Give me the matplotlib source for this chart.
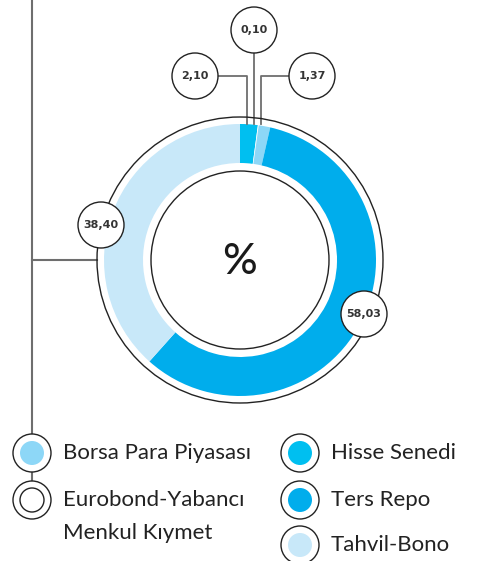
import matplotlib.pyplot as plt
from matplotlib.patches import Circle

# data
labels = ["Hisse Senedi", "Eurobond-Yabancı\nMenkul Kıymet", "Borsa Para Piyasası", "Ters Repo", "Tahvil-Bono"]
values = [2.10, 0.10, 1.37, 58.03, 38.40]
value_txt = ["2,10", "0,10", "1,37", "58,03", "38,40"]
colors = ["#00bff0", "#ffffff", "#8dd7f7", "#00adec", "#c8e8f9"]

W, H = 478, 561
def Y(y):
    return H - y

fig = plt.figure(figsize=(W / 100, H / 100), dpi=100)
ax = fig.add_axes([0, 0, 1, 1])

cx, cy = 240, Y(260)
line_col = "#6e6e6e"

# donut
ax.pie(values, colors=colors, startangle=90, counterclock=False,
       radius=136, center=(cx, cy),
       wedgeprops=dict(width=39, linewidth=0))
ax.add_patch(Circle((cx, cy), 143, fill=False, ec="#222222", lw=1.0, zorder=3))
ax.add_patch(Circle((cx, cy), 89, fill=False, ec="#222222", lw=1.0, zorder=3))
ax.text(cx, cy - 2, "%", ha="center", va="center", fontsize=31,
        family="Lato", fontweight="medium", color="#1a1a1a")

# leader lines
ax.plot([218, 247, 247], [Y(76), Y(76), Y(124)], color=line_col, lw=1.3, zorder=2)
ax.plot([254, 254], [Y(53), Y(124)], color=line_col, lw=1.3, zorder=2)
ax.plot([289, 261, 261], [Y(76), Y(76), Y(124)], color=line_col, lw=1.3, zorder=2)
ax.plot([32, 32], [Y(0), Y(434)], color=line_col, lw=1.5, zorder=1)
ax.plot([32, 32], [Y(472), Y(481)], color=line_col, lw=1.5, zorder=1)
ax.plot([32, 97], [Y(260), Y(260)], color=line_col, lw=1.5, zorder=1)

# value bubbles
bubbles = [(195, 76), (254, 30), (312, 76), (364, 314), (101, 225)]
for (bx, by), t in zip(bubbles, value_txt):
    ax.add_patch(Circle((bx, Y(by)), 23, fc="white", ec="#222222", lw=1.0, zorder=4))
    ax.text(bx, Y(by), t, ha="center", va="center", fontsize=8,
            fontweight="bold", family="DejaVu Sans", color="#333333", zorder=5)

# legend
leg_pos = {"Borsa Para Piyasası": (32, 453), "Eurobond-Yabancı\nMenkul Kıymet": (32, 500),
           "Hisse Senedi": (300, 453), "Ters Repo": (300, 500), "Tahvil-Bono": (300, 545)}
for lab, col in zip(labels, colors):
    lx, ly = leg_pos[lab]
    ax.add_patch(Circle((lx, Y(ly)), 19, fc="white", ec="#222222", lw=1.0, zorder=4))
    ax.add_patch(Circle((lx, Y(ly)), 12, fc=col, ec="#222222" if col == "#ffffff" else "none",
                        lw=1.0, zorder=5))
    lines = lab.split("\n")
    for i, l in enumerate(lines):
        ax.text(lx + 31, Y(ly + 33 * i), l, ha="left", va="center", fontsize=16,
                family="Lato", color="#222222")

ax.set_xlim(0, W)
ax.set_ylim(0, H)
ax.set_aspect("auto")
ax.axis("off")

plt.savefig("out.png", dpi=100)
